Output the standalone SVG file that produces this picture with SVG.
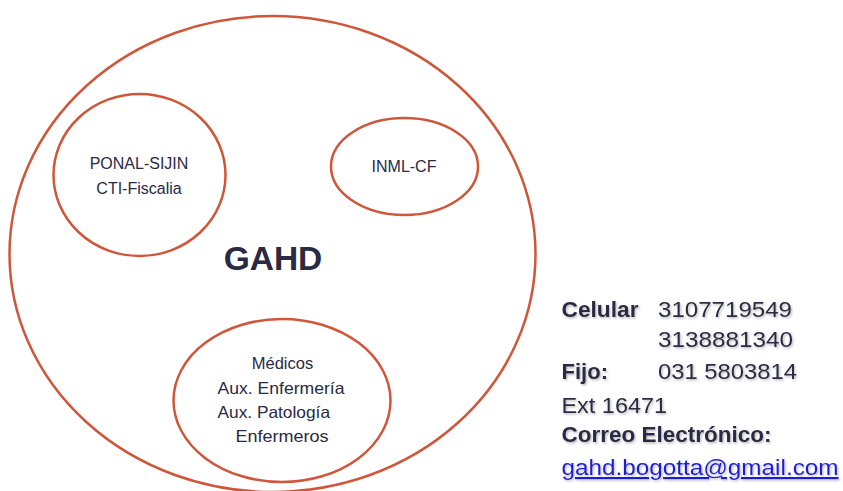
<svg xmlns="http://www.w3.org/2000/svg" width="843" height="491" viewBox="0 0 843 491">
<style>
.ring{fill:none;stroke:#d0563a;stroke-width:2.5}
.t{font-family:"Liberation Sans",Arial,sans-serif;fill:#2a2a44}
.c{text-anchor:middle}
.r{font-family:"Liberation Sans",Arial,sans-serif;font-size:21.5px;fill:#2a2a44;filter:url(#sh)}
.b{font-weight:bold}
.link{fill:#1f1fd6;text-decoration:underline}
</style>
<defs>
<filter id="sh" x="-10%" y="-30%" width="120%" height="160%">
<feDropShadow dx="1.2" dy="1.5" stdDeviation="0.9" flood-color="#808080" flood-opacity="0.55"/>
</filter>
</defs>
<rect width="843" height="491" fill="#ffffff"/>
<g id="gahd">
<ellipse class="ring" cx="272.5" cy="254" rx="263" ry="238"/>
<text class="t c b" x="273" y="270" font-size="33.5">GAHD</text>
</g>
<g id="ponal">
<ellipse class="ring" cx="139.5" cy="175" rx="86" ry="81"/>
<text class="t c" x="139" y="169" font-size="16">PONAL-SIJIN</text>
<text class="t c" x="139" y="194" font-size="16">CTI-Fiscalia</text>
</g>
<g id="inml">
<ellipse class="ring" cx="404.5" cy="166.5" rx="73.5" ry="48.5"/>
<text class="t c" x="404" y="172" font-size="16">INML-CF</text>
</g>
<g id="personal">
<ellipse class="ring" cx="282" cy="400.5" rx="108.5" ry="81.5"/>
<text class="t c" x="282.5" y="368.5" font-size="16.5">Médicos</text>
<text class="t" x="217.5" y="393.5" font-size="16.5" textLength="127" lengthAdjust="spacingAndGlyphs">Aux. Enfermería</text>
<text class="t" x="217.5" y="418" font-size="16.5" textLength="112.5" lengthAdjust="spacingAndGlyphs">Aux. Patología</text>
<text class="t" x="235.5" y="441.5" font-size="16.5" textLength="93" lengthAdjust="spacingAndGlyphs">Enfermeros</text>
</g>
<g id="contacto">
<text class="r b" x="561.5" y="316.5" textLength="77" lengthAdjust="spacingAndGlyphs">Celular</text>
<text class="r" x="658" y="316.5" textLength="134" lengthAdjust="spacingAndGlyphs">3107719549</text>
<text class="r" x="658" y="347" textLength="135" lengthAdjust="spacingAndGlyphs">3138881340</text>
<text class="r b" x="561.5" y="378.5" textLength="46.5" lengthAdjust="spacingAndGlyphs">Fijo:</text>
<text class="r" x="658" y="378.5" textLength="139" lengthAdjust="spacingAndGlyphs">031 5803814</text>
<text class="r" x="561.5" y="413" textLength="105.5" lengthAdjust="spacingAndGlyphs">Ext 16471</text>
<text class="r b" x="561.5" y="441.5" textLength="210" lengthAdjust="spacingAndGlyphs">Correo Electrónico:</text>
<text class="r link" x="561.5" y="475" textLength="277" lengthAdjust="spacingAndGlyphs">gahd.bogotta@gmail.com</text>
</g>
</svg>
